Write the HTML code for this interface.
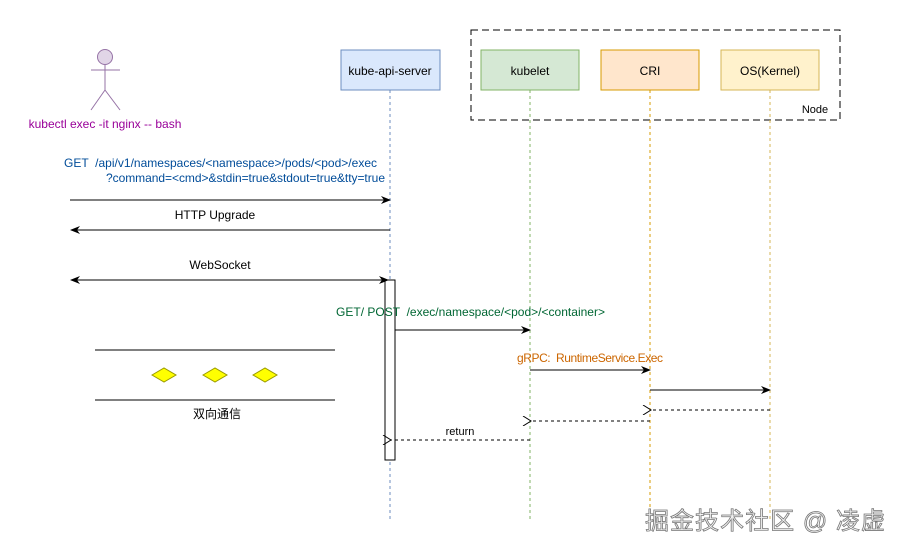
<!DOCTYPE html>
<html><head><meta charset="utf-8"><style>
html,body{margin:0;padding:0;background:#fff;width:900px;height:550px;overflow:hidden}
svg{display:block}
text{font-family:"Liberation Sans","Noto Sans CJK SC",sans-serif;white-space:pre}
</style></head><body>
<svg width="900" height="550" viewBox="0 0 900 550" xmlns="http://www.w3.org/2000/svg">
<defs>
<marker id="a" markerWidth="10" markerHeight="8" refX="9" refY="4" orient="auto" markerUnits="userSpaceOnUse"><path d="M0,0 L10,4 L0,8 L3,4 Z" fill="#000"/></marker>
<marker id="as" markerWidth="10" markerHeight="8" refX="1" refY="4" orient="auto" markerUnits="userSpaceOnUse"><path d="M10,0 L0,4 L10,8 L7,4 Z" fill="#000"/></marker>
<marker id="o" markerWidth="10" markerHeight="10" refX="1" refY="5" orient="auto" markerUnits="userSpaceOnUse"><path d="M9,0 L1,5 L9,10" fill="none" stroke="#000"/></marker>
</defs>
<g stroke="#9673a6" fill="none" stroke-width="1">
<circle cx="105" cy="57" r="7.5" fill="#e1d5e7"/>
<line x1="105" y1="65" x2="105" y2="90"/>
<line x1="91" y1="70" x2="120" y2="70"/>
<line x1="105" y1="90" x2="91" y2="110"/>
<line x1="105" y1="90" x2="120" y2="110"/>
</g>
<text x="105" y="128" font-size="12" fill="#990099" text-anchor="middle">kubectl exec -it nginx -- bash</text>
<rect x="471" y="30" width="369" height="90" fill="none" stroke="#000" stroke-dasharray="7,4"/>
<text x="815" y="113" font-size="11" text-anchor="middle">Node</text>
<line x1="390" y1="90" x2="390" y2="520" stroke="#6c8ebf" stroke-dasharray="3,3"/>
<line x1="530" y1="90" x2="530" y2="520" stroke="#82b366" stroke-dasharray="3,3"/>
<line x1="650" y1="90" x2="650" y2="520" stroke="#d79b00" stroke-dasharray="3,3"/>
<line x1="770" y1="90" x2="770" y2="520" stroke="#d6b656" stroke-dasharray="3,3"/>
<rect x="341" y="50" width="99" height="40" fill="#dae8fc" stroke="#6c8ebf"/>
<text x="390" y="75" font-size="12" text-anchor="middle">kube-api-server</text>
<rect x="481" y="50" width="98" height="40" fill="#d5e8d4" stroke="#82b366"/>
<text x="530" y="75" font-size="12" text-anchor="middle">kubelet</text>
<rect x="601" y="50" width="98" height="40" fill="#ffe6cc" stroke="#d79b00"/>
<text x="650" y="75" font-size="12" text-anchor="middle">CRI</text>
<rect x="721" y="50" width="98" height="40" fill="#fff2cc" stroke="#d6b656"/>
<text x="770" y="75" font-size="12" text-anchor="middle">OS(Kernel)</text>
<rect x="385" y="280" width="10" height="180" fill="#fff" stroke="#000"/>
<text x="64" y="167" font-size="12" fill="#004c99" textLength="313">GET  /api/v1/namespaces/&lt;namespace&gt;/pods/&lt;pod&gt;/exec</text>
<text x="106" y="182" font-size="12" fill="#004c99" textLength="279">?command=&lt;cmd&gt;&amp;stdin=true&amp;stdout=true&amp;tty=true</text>
<line x1="70" y1="200" x2="390" y2="200" stroke="#000" marker-end="url(#a)"/>
<text x="215" y="219" font-size="12" text-anchor="middle">HTTP Upgrade</text>
<line x1="390" y1="230" x2="71" y2="230" stroke="#000" marker-end="url(#a)"/>
<text x="220" y="269" font-size="12" text-anchor="middle">WebSocket</text>
<line x1="71" y1="280" x2="388" y2="280" stroke="#000" marker-end="url(#a)" marker-start="url(#as)"/>
<text x="336" y="316" font-size="12" fill="#006633" textLength="269">GET/ POST  /exec/namespace/&lt;pod&gt;/&lt;container&gt;</text>
<line x1="395" y1="330" x2="530" y2="330" stroke="#000" marker-end="url(#a)"/>
<text x="517" y="362" font-size="12" fill="#cc6600" textLength="146">gRPC:  RuntimeService.Exec</text>
<line x1="530" y1="370" x2="650" y2="370" stroke="#000" marker-end="url(#a)"/>
<line x1="650" y1="390" x2="770" y2="390" stroke="#000" marker-end="url(#a)"/>
<line x1="770" y1="410" x2="651" y2="410" stroke="#000" stroke-dasharray="3,3" marker-end="url(#o)"/>
<line x1="650" y1="421" x2="531" y2="421" stroke="#000" stroke-dasharray="3,3" marker-end="url(#o)"/>
<text x="460" y="435" font-size="11" text-anchor="middle">return</text>
<line x1="530" y1="440" x2="391" y2="440" stroke="#000" stroke-dasharray="3,3" marker-end="url(#o)"/>
<line x1="95" y1="350" x2="335" y2="350" stroke="#000"/>
<line x1="95" y1="400" x2="335" y2="400" stroke="#000"/>
<g fill="#ffff00" stroke="#999900">
<polygon points="152,375 164,368 176,375 164,382"/>
<polygon points="203,375 215,368 227,375 215,382"/>
<polygon points="253,375 265,368 277,375 265,382"/>
</g>
<text x="217" y="418" font-size="12" text-anchor="middle">双向通信</text>
<text x="765" y="529" font-size="24" fill="#f4f4f4" stroke="#777" stroke-width="0.8" text-anchor="middle" textLength="240">掘金技术社区 @ 凌虚</text>
</svg>
</body></html>
